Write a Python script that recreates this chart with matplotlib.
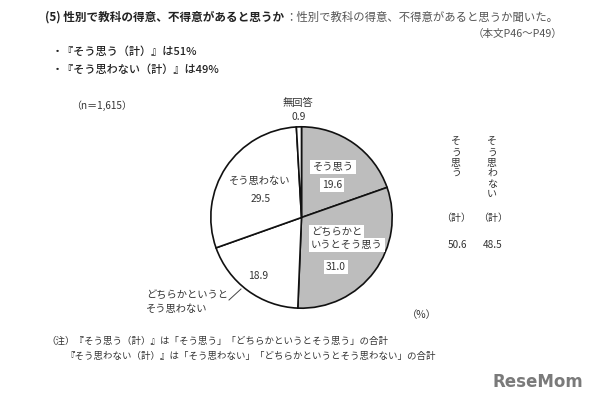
import matplotlib.pyplot as plt
import numpy as np

plt.rcParams['font.family'] = ['Noto Sans CJK JP', 'DejaVu Sans']
plt.rcParams['axes.unicode_minus'] = False

# データ（％）
labels = ['そう思う', 'どちらかと\nいうとそう思う', 'どちらかというと\nそう思わない', 'そう思わない', '無回答']
values = [19.6, 31.0, 18.9, 29.5, 0.9]
total_agree = 50.6
total_disagree = 48.5
n_text = '（n＝1,615）'

W, H = 610, 400
fig = plt.figure(figsize=(W / 100, H / 100), dpi=100)


def fx(x):
    return x / W


def fy(y):
    return 1 - y / H


txt = '#333333'

# タイトル部分
fig.text(fx(45), fy(17), '(5) 性別で教科の得意、不得意があると思うか', fontsize=8.4,
         fontweight='bold', color='#222222', va='center', ha='left')
fig.text(fx(285), fy(17), '：性別で教科の得意、不得意があると思うか聞いた。', fontsize=8.2,
         color='#555555', va='center', ha='left')
fig.text(fx(562), fy(34), '（本文P46～P49）', fontsize=7.6, color='#555555',
         va='center', ha='right')
fig.text(fx(52), fy(52), '・『そう思う（計）』は51%', fontsize=8.0, color='#222222',
         va='center', ha='left', fontweight='medium')
fig.text(fx(52), fy(70), '・『そう思わない（計）』は49%', fontsize=8.0, color='#222222',
         va='center', ha='left', fontweight='medium')
fig.text(fx(102), fy(106), n_text, fontsize=7.2, color=txt, va='center', ha='center')

# 円グラフ
cx, cy, r = 301.5, 217.5, 92.5
ax = fig.add_axes([fx(cx - r), fy(cy + r), 2 * r / W, 2 * r / H])
colors = ['#bdbdbd', '#bdbdbd', 'white', 'white', 'white']
ax.pie(values, startangle=90, counterclock=False, colors=colors,
       wedgeprops=dict(edgecolor='#111111', linewidth=1.2))
ax.set_xlim(-1.02, 1.02)
ax.set_ylim(-1.02, 1.02)
ax.set_aspect('equal')
ax.axis('off')


def px(x, y):
    return fx(x), fy(y)


box = dict(facecolor='white', edgecolor='none', pad=1.5)
fs = 7.4
fig.text(*px(298, 103), '無回答', fontsize=fs, color=txt, ha='center', va='center')
fig.text(*px(299, 117), f'{values[4]}', fontsize=fs, color=txt, ha='center', va='center')

fig.text(*px(333, 167), labels[0], fontsize=fs, color=txt, ha='center', va='center', bbox=box)
fig.text(*px(332, 185), f'{values[0]}', fontsize=fs, color=txt, ha='center', va='center', bbox=box)

l1, l2 = labels[1].split('\n')
fig.text(*px(311, 232), l1, fontsize=fs, color=txt, ha='left', va='center', bbox=box)
fig.text(*px(311, 245), l2, fontsize=fs, color=txt, ha='left', va='center', bbox=box)
fig.text(*px(336, 267), f'{values[1]}', fontsize=fs, color=txt, ha='center', va='center', bbox=box)

fig.text(*px(260, 181), labels[3], fontsize=fs, color=txt, ha='center', va='center')
fig.text(*px(261, 199), f'{values[3]}', fontsize=fs, color=txt, ha='center', va='center')

fig.text(*px(258, 276), f'{values[2]}', fontsize=fs, color=txt, ha='center', va='center')
m1, m2 = labels[2].split('\n')
fig.text(*px(146, 295), m1, fontsize=fs, color=txt, ha='left', va='center')
fig.text(*px(146, 309), m2, fontsize=fs, color=txt, ha='left', va='center')
fig.add_artist(plt.Line2D([fx(229), fx(241)], [fy(300), fy(289)], color='#444444', lw=0.7))

fig.text(*px(422, 315), '（%）', fontsize=fs, color=txt, ha='center', va='center')

# 右側の合計
fig.text(*px(456, 137), '\n'.join('そう思う'), fontsize=7.2, color=txt,
         ha='center', va='top', linespacing=1.05)
fig.text(*px(492, 137), '\n'.join('そう思わない'), fontsize=7.2, color=txt,
         ha='center', va='top', linespacing=1.05)
fig.text(*px(456, 218), '（計）', fontsize=7.2, color=txt, ha='center', va='center')
fig.text(*px(493, 218), '（計）', fontsize=7.2, color=txt, ha='center', va='center')
fig.text(*px(457, 245), f'{total_agree}', fontsize=7.2, color=txt, ha='center', va='center')
fig.text(*px(493, 245), f'{total_disagree}', fontsize=7.2, color=txt, ha='center', va='center')

# 注
fig.text(*px(46, 341), '（注）『そう思う（計）』は「そう思う」「どちらかというとそう思う」の合計',
         fontsize=6.8, color=txt, ha='left', va='center')
fig.text(*px(65, 356), '『そう思わない（計）』は「そう思わない」「どちらかというとそう思わない」の合計',
         fontsize=6.8, color=txt, ha='left', va='center')

# ロゴ
fig.text(*px(538, 382), 'ReseMom', fontsize=12, fontweight='bold', color='#7a7a7a',
         ha='center', va='center', family='DejaVu Sans')

fig.savefig('out.png', dpi=100, facecolor='white')
